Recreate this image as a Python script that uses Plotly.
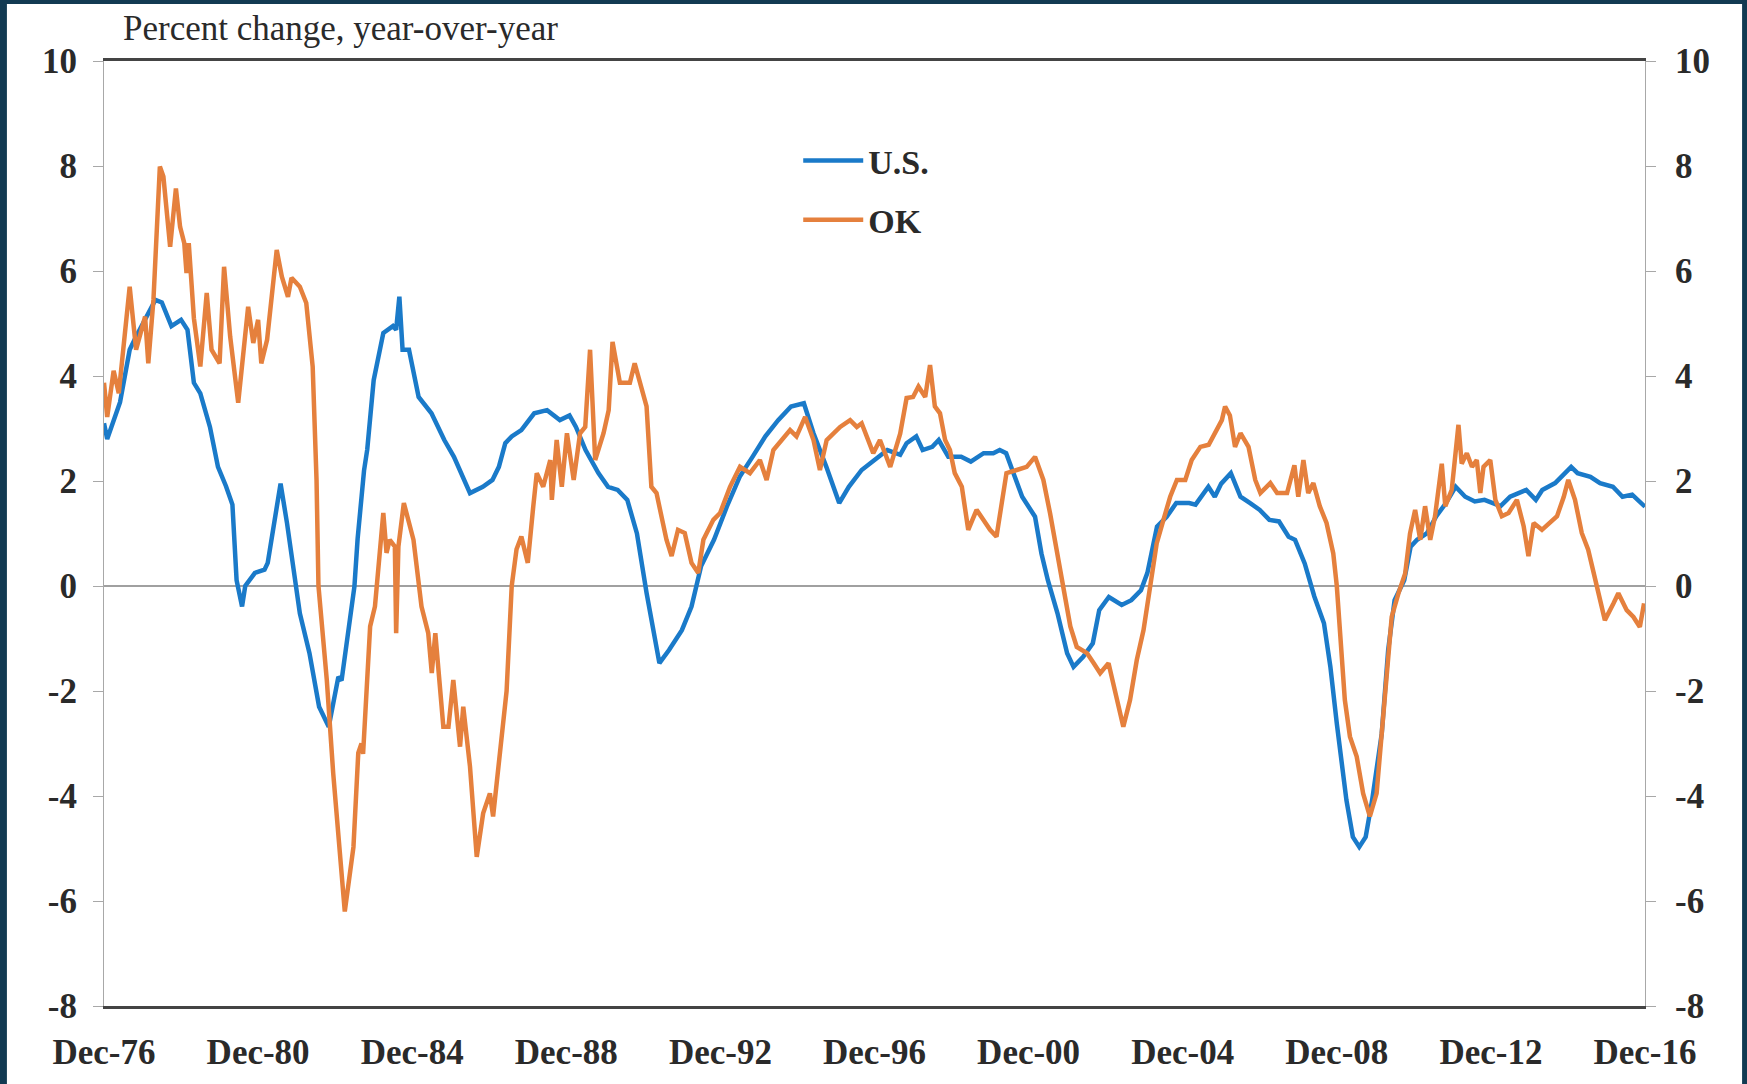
import plotly.graph_objects as go

# x values: months since Dec-1976
tick_labels = ["Dec-76", "Dec-80", "Dec-84", "Dec-88", "Dec-92", "Dec-96",
               "Dec-00", "Dec-04", "Dec-08", "Dec-12", "Dec-16"]
tick_months = [0, 48, 96, 144, 192, 240, 288, 336, 384, 432, 480]

us_months = [0, 1, 5, 8, 10, 16, 18, 21, 24, 26, 28, 30, 33, 35.5, 38, 40, 41.3, 43, 44, 47, 50, 51,
             55, 57, 61, 64, 67, 70, 73, 74, 78, 79, 81, 82, 84, 87, 90, 91, 92, 93, 95, 98, 102,
             106, 109, 114, 118, 121, 123, 125, 127, 130, 134, 138, 142, 145, 147, 150, 154, 157,
             160, 163, 166, 169, 173, 176, 180, 183, 186, 190, 194, 198, 202, 206, 210, 214, 218,
             221, 225, 229, 232, 236, 240, 244, 248, 250, 253, 255, 258, 260, 263, 267, 270, 274,
             277, 279, 281, 283, 286, 290, 292, 294, 297, 300, 302, 305, 308, 310, 313, 317, 320,
             323, 325, 328, 331, 334, 338, 340, 344, 346, 348, 351, 354, 357, 360, 363, 366, 369,
             371, 374, 377, 380, 382, 384, 387, 389, 391, 393, 395, 398, 400, 402, 405, 407, 409,
             412, 415, 418, 421, 424, 427, 430, 433, 435, 438, 441, 443, 446, 448, 452, 454, 457,
             459, 463, 466, 470, 473, 476, 480]
us_values = [3.1, 2.8, 3.5, 4.5, 4.75, 5.45, 5.4, 4.95, 5.07, 4.88, 3.87, 3.67, 3.03, 2.27, 1.9, 1.55,
             0.11, -0.39, 0.0, 0.25, 0.31, 0.44, 1.95, 1.2, -0.52, -1.28, -2.3, -2.68, -1.73, -1.8,
             -0.01, 0.9, 2.2, 2.6, 3.92, 4.82, 4.95, 4.88, 5.51, 4.5, 4.5, 3.6, 3.29, 2.78, 2.46,
             1.77, 1.89, 2.02, 2.27, 2.72, 2.85, 2.97, 3.29, 3.35, 3.16, 3.25, 3.03, 2.59, 2.15,
             1.89, 1.83, 1.64, 1.0, -0.13, -1.47, -1.22, -0.84, -0.39, 0.38, 0.88, 1.51, 2.08, 2.46,
             2.85, 3.16, 3.42, 3.48, 2.91, 2.27, 1.58, 1.89, 2.21, 2.4, 2.59, 2.5, 2.72, 2.85, 2.59,
             2.65, 2.78, 2.46, 2.46, 2.37, 2.53, 2.53, 2.59, 2.53, 2.21, 1.7, 1.32, 0.62, 0.11,
             -0.52, -1.28, -1.54, -1.35, -1.09, -0.46, -0.21, -0.36, -0.27, -0.08, 0.25, 1.13, 1.32,
             1.58, 1.58, 1.55, 1.89, 1.7, 1.95, 2.15, 1.7, 1.58, 1.45, 1.26, 1.23, 0.94, 0.88, 0.43,
             -0.2, -0.71, -1.54, -2.62, -4.08, -4.78, -4.97, -4.78, -4.08, -2.81, -1.22, -0.27, 0.11,
             0.75, 0.88, 1.0, 1.33, 1.58, 1.89, 1.7, 1.61, 1.64, 1.58, 1.52, 1.7, 1.77, 1.83, 1.64,
             1.83, 1.96, 2.08, 2.27, 2.15, 2.08, 1.96, 1.89, 1.7, 1.74, 1.51]

ok_months = [0, 1, 3, 4.6, 8, 10, 12.8, 13.8, 15.4, 17.4, 18.5, 20.6, 22.4, 23.7, 25, 25.7, 26.4, 28,
             30, 32, 33.5, 36, 37.4, 39.3, 41.8, 44.9, 46.5, 48, 49, 50.8, 53.8, 55.4, 57.3, 58.4,
             61, 63, 65, 66.2, 66.8, 69.4, 71.4, 75, 77.7, 79.2, 80.2, 80.7, 82.9, 84.4, 87, 88, 89,
             90.6, 91, 91.7, 93.4, 96.4, 98.4, 98.9, 101, 102.1, 103.2, 105.7, 107.3, 108.8, 110.9,
             111.9, 114, 116.1, 118.1, 120.2, 121.2, 125.4, 127, 128.5, 130, 132, 133.7, 134.8,
             136.8, 139, 139.5, 141, 142.6, 144.2, 146.3, 148.3, 149.9, 151.4, 153, 155.6, 157.2,
             158.4, 160.7, 163.8, 165.3, 169, 170.5, 172.1, 175.2, 176.8, 178.8, 180.9, 183, 185.1,
             186.7, 189.8, 191.9, 195, 198.1, 201.2, 204.3, 206.4, 208.5, 211.1, 213.7, 215.7,
             218.4, 221, 223, 225.1, 227.2, 229.3, 232.4, 234.5, 236, 239.6, 241.7, 244.9, 248, 250,
             252, 253.7, 255.8, 257.3, 258.8, 260.4, 262, 263.5, 265, 267.2, 269.2, 271.8, 273.9,
             276, 278, 279.6, 281.1, 284.3, 287.4, 290, 292.6, 294.7, 296.8, 298.9, 301, 303, 306.2,
             308.3, 310.3, 312.9, 315.5, 317.5, 319.6, 321.7, 323.8, 325.8, 327.9, 330, 332.1,
             334.2, 336.8, 338.8, 341.5, 344.1, 346.1, 348.2, 349.2, 350.7, 352.3, 354, 356.5,
             358.6, 360.2, 363.3, 365.4, 368.5, 370.8, 372, 373.6, 375.1, 376.7, 378.7, 380.8,
             382.9, 384, 385, 386.5, 388.1, 390.2, 392.2, 394.3, 396.4, 398, 399.5, 401.1, 403.2,
             405.3, 406.8, 408.4, 410, 411.5, 413.1, 414.6, 416.7, 417.8, 419.8, 421.9, 422.9,
             424.5, 426.1, 427.6, 428.7, 429.7, 431.8, 433.4, 435.4, 437.5, 440.1, 442.2, 443.7,
             445.3, 447.9, 450.5, 452.6, 454.7, 456.1, 458.2, 460.3, 462.3, 464.9, 467.5, 470.2,
             471.7, 474.3, 476.4, 478.4, 479.7]
ok_values = [3.87, 3.22, 4.1, 3.67, 5.7, 4.5, 5.13, 4.24, 5.45, 7.99, 7.8, 6.46, 7.57, 6.84, 6.53,
             5.96, 6.53, 5.1, 4.18, 5.58, 4.5, 4.24, 6.08, 4.75, 3.49, 5.32, 4.63, 5.07, 4.24, 4.69,
             6.4, 5.89, 5.51, 5.87, 5.7, 5.39, 4.18, 2.02, 0.0, -1.79, -3.57, -6.2, -4.97, -3.18,
             -3.0, -3.2, -0.77, -0.39, 1.39, 0.63, 0.88, 0.75, -0.9, 0.75, 1.58, 0.88, -0.14, -0.39,
             -0.9, -1.66, -0.9, -2.68, -2.68, -1.79, -3.06, -2.3, -3.44, -5.16, -4.33, -3.95, -4.39,
             -2.0, 0.0, 0.7, 0.94, 0.44, 1.51, 2.15, 1.89, 2.4, 1.64, 2.78, 1.89, 2.91, 2.02, 2.91,
             3.03, 4.5, 2.4, 2.91, 3.35, 4.65, 3.87, 3.87, 4.24, 3.42, 1.89, 1.77, 0.88, 0.57, 1.07,
             1.01, 0.44, 0.25, 0.88, 1.26, 1.39, 1.89, 2.27, 2.15, 2.4, 2.02, 2.59, 2.78, 2.97, 2.85,
             3.22, 2.78, 2.21, 2.78, 2.91, 3.03, 3.16, 3.03, 3.1, 2.53, 2.78, 2.27, 2.9, 3.58, 3.6,
             3.8, 3.6, 4.21, 3.42, 3.29, 2.78, 2.59, 2.15, 1.89, 1.07, 1.45, 1.26, 1.07, 0.94, 1.51,
             2.15, 2.21, 2.27, 2.46, 2.02, 1.38, 0.69, -0.08, -0.77, -1.16, -1.28, -1.47, -1.66,
             -1.47, -2.17, -2.68, -2.17, -1.41, -0.84, -0.08, 0.81, 1.26, 1.7, 2.02, 2.02, 2.4, 2.65,
             2.69, 2.91, 3.16, 3.42, 3.25, 2.65, 2.91, 2.65, 2.02, 1.77, 1.96, 1.77, 1.77, 2.3, 1.7,
             2.4, 1.77, 1.96, 1.52, 1.2, 0.62, 0.0, -0.88, -2.17, -2.87, -3.25, -3.95, -4.39, -3.95,
             -2.81, -1.54, -0.59, -0.14, 0.24, 1.0, 1.45, 0.88, 1.52, 0.88, 1.33, 2.33, 1.52, 1.83,
             3.07, 2.33, 2.53, 2.27, 2.4, 1.77, 2.27, 2.4, 1.64, 1.33, 1.39, 1.64, 1.14, 0.57, 1.2,
             1.07, 1.2, 1.33, 1.7, 2.02, 1.64, 1.01, 0.69, 0.05, -0.65, -0.33, -0.14, -0.46, -0.59,
             -0.78, -0.33]

y_ticks = [-8, -6, -4, -2, 0, 2, 4, 6, 8, 10]
y_min, y_max = -8, 10

BLUE = "#1a7ac9"
ORANGE = "#e5803d"
NAVY = "#123a52"
TXT = "#2a2a2a"
FONT = "Liberation Serif"

fig = go.Figure()
fig.add_trace(go.Scatter(x=us_months, y=us_values, mode="lines", name="<b>U.S.</b>",
                         line=dict(color=BLUE, width=4.5), legendgroup="us"))
fig.add_trace(go.Scatter(x=ok_months, y=ok_values, mode="lines", name="<b>OK</b>",
                         line=dict(color=ORANGE, width=4.5), legendgroup="ok", yaxis="y2"))

axis_font = dict(family=FONT, size=35, color=TXT)

fig.update_layout(
    width=1747, height=1084,
    margin=dict(l=104, r=102, t=61, b=78, autoexpand=False),
    paper_bgcolor=NAVY,
    plot_bgcolor="white",
    showlegend=True,
    legend=dict(x=0.4505, y=0.925, xanchor="left", yanchor="top",
                font=dict(family=FONT, size=34, color=TXT),
                bgcolor="rgba(0,0,0,0)", itemwidth=60, tracegroupgap=12,
                traceorder="grouped"),
    xaxis=dict(range=[0, 480], tickvals=tick_months, ticktext=[f"<b>{t}</b>" for t in tick_labels],
               showgrid=False, zeroline=False, showline=True, linecolor="#444444", linewidth=2.5,
               mirror=True, ticks="", tickfont=axis_font, ticklabelstandoff=13, automargin=False),
    # small tick marks where the category axis crosses zero
    xaxis2=dict(range=[0, 480], tickvals=tick_months, overlaying="x", anchor="free",
                position=(0 - y_min) / (y_max - y_min), side="bottom", showline=False,
                showgrid=False, zeroline=False, ticks="outside", ticklen=7, tickwidth=1,
                tickcolor="#a0a0a0", showticklabels=False, automargin=False),
    yaxis=dict(range=[y_min, y_max], tickvals=y_ticks, ticktext=[f"<b>{v}</b>" for v in y_ticks],
               showgrid=False, zeroline=True, zerolinecolor="#a0a0a0", zerolinewidth=1.5,
               showline=True, linecolor="#a8a8a8", linewidth=1, ticks="outside", ticklen=10,
               tickcolor="#a8a8a8", tickfont=axis_font, ticklabelstandoff=9, automargin=False),
    yaxis2=dict(range=[y_min, y_max], tickvals=y_ticks, ticktext=[f"<b>{v}</b>" for v in y_ticks],
                overlaying="y", side="right", showgrid=False, zeroline=False,
                showline=True, linecolor="#a8a8a8", linewidth=1, ticks="outside", ticklen=10,
                tickcolor="#a8a8a8", tickfont=axis_font, ticklabelstandoff=12, automargin=False),
    shapes=[dict(type="rect", xref="paper", yref="paper", x0=-0.063, x1=1.063, y0=-0.0826,
                 y1=1.0603, fillcolor="white", line=dict(width=0), layer="below")],
    annotations=[dict(text="Percent change, year-over-year", xref="paper", yref="paper",
                      x=0.011, y=1.0, xanchor="left", yanchor="bottom", yshift=11, showarrow=False,
                      font=dict(family=FONT, size=35, color=TXT))],
)

fig.write_html("out.html", config={"displayModeBar": False},
               post_script="document.body.style.margin='0';document.body.style.overflow='hidden';")
